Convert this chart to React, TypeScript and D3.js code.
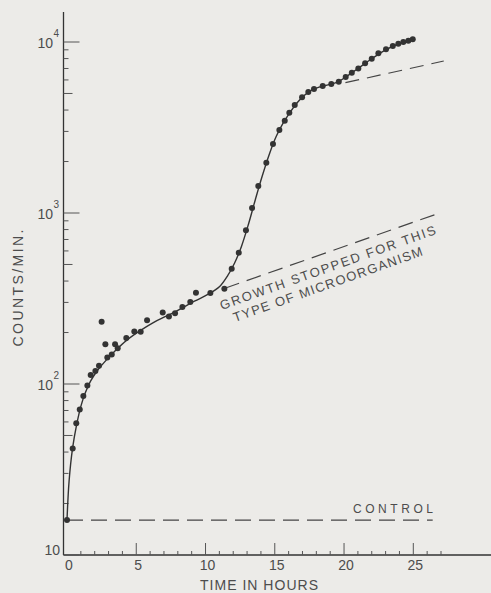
import React from "react";
import * as d3 from "d3";

// Observed data points (hours, counts/min)
const pointHours = [0, 0.41, 0.67, 0.92, 1.18, 1.47, 1.71, 2.05, 2.31, 2.5, 2.77, 2.91, 3.23, 3.47, 3.66, 4.28, 4.86, 5.32, 5.78, 6.91, 7.36, 7.8, 8.33, 8.9, 9.31, 10.35, 11.36, 11.89, 12.4, 12.92, 13.36, 13.81, 14.39, 14.87, 15.33, 15.72, 16.05, 16.44, 16.97, 17.42, 17.83, 18.46, 19.08, 19.62, 20.12, 20.56, 21.03, 21.52, 22.0, 22.48, 23.03, 23.52, 23.92, 24.28, 24.64, 24.96];
const pointCounts = [16, 42, 59, 71, 85, 98, 113, 119, 128, 231, 171, 143, 149, 171, 162, 186, 203, 202, 236, 262, 248, 259, 282, 302, 342, 341, 361, 472, 586, 793, 1070, 1439, 1969, 2535, 3058, 3466, 3863, 4285, 4753, 5105, 5312, 5532, 5680, 5860, 6240, 6610, 7010, 7500, 7980, 8590, 9060, 9480, 9780, 10000, 10180, 10370];

// Smooth fitted curve
const fitHours = [0, 0.15, 0.4, 0.7, 1.0, 1.3, 1.7, 2.2, 2.8, 3.5, 4.3, 5.2, 6.2, 7.2, 8.2, 9.2, 10.2, 11.0, 11.6, 12.1, 12.6, 13.1, 13.6, 14.1, 14.6, 15.1, 15.6, 16.1, 16.6, 17.1, 17.6, 18.2, 18.9, 19.6, 20.2, 21.0, 22.0, 23.0, 24.0, 24.96];
const fitCounts = [16, 27, 42, 58, 74, 88, 104, 120, 137, 157, 180, 203, 228, 250, 275, 305, 335, 370, 430, 510, 640, 860, 1200, 1650, 2200, 2800, 3350, 3880, 4400, 4850, 5200, 5450, 5630, 5870, 6300, 7000, 7980, 9000, 9800, 10370];

// Dashed extrapolations
const stoppedHours = [11.4, 26.9];
const stoppedCounts = [363, 1000];
const upperHours = [20.1, 27.2];
const upperCounts = [5780, 7740];
const controlHours = [0, 26.4];
const controlCounts = [16, 16];

const xTickLabels = [0, 5, 10, 15, 20, 25];
const xMinorTicks = d3.range(1, 28);
const yDecades = [10, 100, 1000, 10000];
const yDecadeExp = ["", "2", "3", "4"];

const W = 491;
const H = 593;
const FONT = "'Liberation Sans', Arial, sans-serif";
const INK = "#333";
const TXT = "#4d4d4d";

export default function App() {
  const x = d3.scaleLinear().domain([0, 25]).range([67, 413.3]);
  const y = d3.scaleLog().domain([10, 10000]).range([555, 42]);
  const axisX = 63.5;
  const axisY = 555;

  const line = d3
    .line<[number, number]>()
    .x((d) => x(d[0]))
    .y((d) => y(d[1]))
    .curve(d3.curveCatmullRom.alpha(0.5));
  const straight = d3
    .line<[number, number]>()
    .x((d) => x(d[0]))
    .y((d) => y(d[1]));

  const fit: [number, number][] = fitHours.map((h, i) => [h, fitCounts[i]]);
  const stopped: [number, number][] = stoppedHours.map((h, i) => [h, stoppedCounts[i]]);
  const upper: [number, number][] = upperHours.map((h, i) => [h, upperCounts[i]]);
  const control: [number, number][] = controlHours.map((h, i) => [h, controlCounts[i]]);

  // y minor ticks
  const yMinor: number[] = [];
  for (let d = 10; d < 10000; d *= 10) {
    for (let k = 2; k <= 9; k++) yMinor.push(d * k);
  }

  const lineAngle = -19.5;

  return (
    <div style={{ position: "fixed", left: 0, top: 0, width: W, height: H }}>
      <svg width={W} height={H} style={{ display: "block", background: "#ecebe8" }}>
        <rect x={0} y={0} width={W} height={H} fill="#ecebe8" />
        {/* axes */}
        <line x1={axisX} y1={12} x2={axisX} y2={axisY} stroke={INK} strokeWidth={1.3} />
        <line x1={axisX} y1={axisY} x2={W} y2={axisY} stroke={INK} strokeWidth={1.3} />
        {/* y ticks */}
        {yDecades.map((v) => (
          <line key={"yd" + v} x1={axisX} x2={axisX + 16} y1={y(v)} y2={y(v)} stroke="#555" strokeWidth={1} />
        ))}
        {yMinor.map((v) => (
          <line
            key={"ym" + v}
            x1={axisX}
            x2={axisX + (Math.round(v / Math.pow(10, Math.floor(Math.log10(v)))) === 5 ? 9 : 5)}
            y1={y(v)}
            y2={y(v)}
            stroke="#555"
            strokeWidth={1}
          />
        ))}
        {/* y labels */}
        {yDecades.map((v, i) => {
          const ty = y(v);
          if (v === 10) {
            return (
              <text key={"yl" + v} x={60} y={ty} fontFamily={FONT} fontSize={14} fill={TXT} textAnchor="end">
                10
              </text>
            );
          }
          return (
            <g key={"yl" + v}>
              <text x={53} y={ty + 6} fontFamily={FONT} fontSize={14} fill={TXT} textAnchor="end">
                10
              </text>
              <text x={53.5} y={ty - 5} fontFamily={FONT} fontSize={10} fill={TXT}>
                {yDecadeExp[i]}
              </text>
            </g>
          );
        })}
        {/* x ticks */}
        {xMinorTicks.map((h) => (
          <line
            key={"xm" + h}
            x1={x(h)}
            x2={x(h)}
            y1={axisY}
            y2={axisY - (h % 5 === 0 ? 12 : 4)}
            stroke="#555"
            strokeWidth={1}
          />
        ))}
        {xTickLabels.map((h) => (
          <text key={"xl" + h} x={x(h) + 2} y={570} fontFamily={FONT} fontSize={14} fill={TXT} textAnchor="middle">
            {h}
          </text>
        ))}
        {/* axis titles */}
        <text x={259} y={590} fontFamily={FONT} fontSize={14} fill={TXT} textAnchor="middle" textLength={118} lengthAdjust="spacing">
          TIME IN HOURS
        </text>
        <text
          transform="translate(23,288) rotate(-90)"
          fontFamily={FONT}
          fontSize={14}
          fill={TXT}
          textAnchor="middle"
          textLength={117}
          lengthAdjust="spacing"
        >
          COUNTS/MIN.
        </text>
        {/* dashed lines */}
        <path d={straight(control) || ""} fill="none" stroke="#444" strokeWidth={1.2} strokeDasharray="16 8" />
        <path d={straight(stopped) || ""} fill="none" stroke="#444" strokeWidth={1.2} strokeDasharray="15 8" />
        <path d={straight(upper) || ""} fill="none" stroke="#444" strokeWidth={1.2} strokeDasharray="14 8" />
        {/* annotations */}
        <text x={353} y={513} fontFamily={FONT} fontSize={12} fill={TXT} textLength={80} lengthAdjust="spacing">
          CONTROL
        </text>
        <text
          transform={`translate(221.7,310) rotate(${lineAngle})`}
          fontFamily={FONT}
          fontSize={13}
          fill={TXT}
          textLength={228}
          lengthAdjust="spacing"
        >
          GROWTH STOPPED FOR THIS
        </text>
        <text
          transform={`translate(235,322) rotate(${lineAngle})`}
          fontFamily={FONT}
          fontSize={13}
          fill={TXT}
          textLength={200}
          lengthAdjust="spacing"
        >
          TYPE OF MICROORGANISM
        </text>
        {/* fit curve */}
        <path d={line(fit) || ""} fill="none" stroke={INK} strokeWidth={1.4} />
        {/* points */}
        {pointHours.map((h, i) => (
          <circle key={"p" + i} cx={x(h)} cy={y(pointCounts[i])} r={3} fill={INK} />
        ))}
      </svg>
    </div>
  );
}
